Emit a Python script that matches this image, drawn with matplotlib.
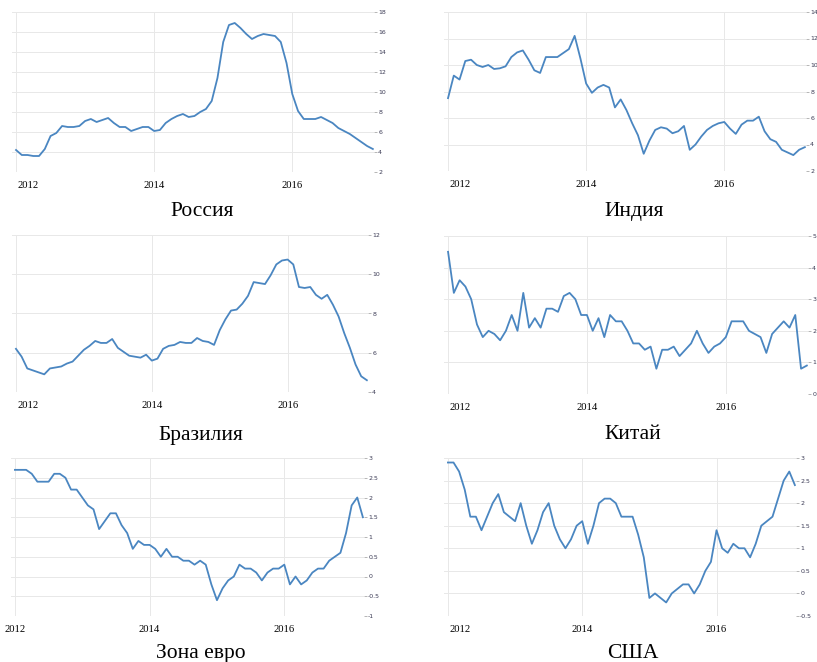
import numpy as np
import matplotlib
matplotlib.use('Agg')
import matplotlib.pyplot as plt

# monthly inflation, Jan 2012 .. Mar 2017
russia = [4.2, 3.7, 3.7, 3.6, 3.6, 4.3, 5.6, 5.9, 6.6, 6.5, 6.5, 6.6,
          7.1, 7.3, 7.0, 7.2, 7.4, 6.9, 6.5, 6.5, 6.1, 6.3, 6.5, 6.5,
          6.1, 6.2, 6.9, 7.3, 7.6, 7.8, 7.5, 7.6, 8.0, 8.3, 9.1, 11.4,
          15.0, 16.7, 16.9, 16.4, 15.8, 15.3, 15.6, 15.8, 15.7, 15.6, 15.0, 12.9,
          9.8, 8.1, 7.3, 7.3, 7.3, 7.5, 7.2, 6.9, 6.4, 6.1, 5.8, 5.4,
          5.0, 4.6, 4.3]
india = [7.5, 9.2, 8.9, 10.3, 10.4, 10.0, 9.85, 10.0, 9.7, 9.75, 9.9, 10.6,
         10.95, 11.1, 10.4, 9.6, 9.4, 10.6, 10.6, 10.6, 10.9, 11.2, 12.2, 10.5,
         8.6, 7.9, 8.3, 8.5, 8.3, 6.8, 7.4, 6.6, 5.6, 4.7, 3.3, 4.3,
         5.1, 5.3, 5.2, 4.85, 5.0, 5.4, 3.6, 4.0, 4.6, 5.1, 5.4, 5.6,
         5.7, 5.2, 4.8, 5.5, 5.8, 5.8, 6.1, 5.0, 4.4, 4.2, 3.6, 3.4,
         3.2, 3.6, 3.8]
brazil = [6.2, 5.8, 5.2, 5.1, 5.0, 4.9, 5.2, 5.25, 5.3, 5.45, 5.55, 5.85,
          6.15, 6.35, 6.6, 6.5, 6.5, 6.7, 6.25, 6.05, 5.85, 5.8, 5.75, 5.9,
          5.6, 5.7, 6.2, 6.35, 6.4, 6.55, 6.5, 6.5, 6.75, 6.6, 6.55, 6.4,
          7.15, 7.7, 8.15, 8.2, 8.5, 8.9, 9.6, 9.55, 9.5, 9.95, 10.5, 10.7,
          10.75, 10.5, 9.35, 9.3, 9.35, 8.95, 8.75, 8.95, 8.45, 7.85, 7.0, 6.25,
          5.4, 4.8, 4.6]
china = [4.5, 3.2, 3.6, 3.4, 3.0, 2.2, 1.8, 2.0, 1.9, 1.7, 2.0, 2.5,
         2.0, 3.2, 2.1, 2.4, 2.1, 2.7, 2.7, 2.6, 3.1, 3.2, 3.0, 2.5,
         2.5, 2.0, 2.4, 1.8, 2.5, 2.3, 2.3, 2.0, 1.6, 1.6, 1.4, 1.5,
         0.8, 1.4, 1.4, 1.5, 1.2, 1.4, 1.6, 2.0, 1.6, 1.3, 1.5, 1.6,
         1.8, 2.3, 2.3, 2.3, 2.0, 1.9, 1.8, 1.3, 1.9, 2.1, 2.3, 2.1,
         2.5, 0.8, 0.9]
euro = [2.7, 2.7, 2.7, 2.6, 2.4, 2.4, 2.4, 2.6, 2.6, 2.5, 2.2, 2.2,
        2.0, 1.8, 1.7, 1.2, 1.4, 1.6, 1.6, 1.3, 1.1, 0.7, 0.9, 0.8,
        0.8, 0.7, 0.5, 0.7, 0.5, 0.5, 0.4, 0.4, 0.3, 0.4, 0.3, -0.2,
        -0.6, -0.3, -0.1, 0.0, 0.3, 0.2, 0.2, 0.1, -0.1, 0.1, 0.2, 0.2,
        0.3, -0.2, 0.0, -0.2, -0.1, 0.1, 0.2, 0.2, 0.4, 0.5, 0.6, 1.1,
        1.8, 2.0, 1.5]
usa = [2.9, 2.9, 2.7, 2.3, 1.7, 1.7, 1.4, 1.7, 2.0, 2.2, 1.8, 1.7,
       1.6, 2.0, 1.5, 1.1, 1.4, 1.8, 2.0, 1.5, 1.2, 1.0, 1.2, 1.5,
       1.6, 1.1, 1.5, 2.0, 2.1, 2.1, 2.0, 1.7, 1.7, 1.7, 1.3, 0.8,
       -0.1, 0.0, -0.1, -0.2, 0.0, 0.1, 0.2, 0.2, 0.0, 0.2, 0.5, 0.7,
       1.4, 1.0, 0.9, 1.1, 1.0, 1.0, 0.8, 1.1, 1.5, 1.6, 1.7, 2.1,
       2.5, 2.7, 2.4]

titles = ['Россия', 'Индия', 'Бразилия', 'Китай', 'Зона евро', 'США']
series = [russia, india, brazil, china, euro, usa]
yticks = [np.arange(2, 19, 2), np.arange(2, 15, 2), np.arange(4, 13, 2),
          np.arange(0, 6, 1), np.arange(-1, 3.01, 0.5), np.arange(-0.5, 3.01, 0.5)]
years = ['2012', '2014', '2016']
year_pos = [0, 24, 48]

# panel boxes in pixels: left, right, top, bottom
boxes = [(12, 374, 12, 172), (444, 806, 12, 171),
         (12, 368, 235, 392), (444, 808, 236, 394),
         (11, 364, 458, 616), (444, 796, 458, 616)]
title_xy = [(202, 216), (634, 216), (201, 440), (633, 439), (201, 658), (633, 658)]

W, H = 817, 662
fig = plt.figure(figsize=(W/100, H/100), dpi=100)
serif = 'Liberation Serif'
col = '#4a86c1'
x = np.arange(len(russia))

for i in range(6):
    l, r, t, b = boxes[i]
    ax = fig.add_axes([l/W, 1 - b/H, (r - l)/W, (b - t)/H])
    ax.plot(x, series[i], color=col, lw=1.3, solid_joinstyle='round')
    ax.set_xlim(-0.7, 62.2)
    ax.set_ylim(yticks[i][0], yticks[i][-1])
    ax.set_yticks(yticks[i])
    ax.set_yticklabels(['%g' % v for v in yticks[i]])
    ax.yaxis.tick_right()
    ax.tick_params(axis='y', length=2, width=0.6, color='#aaaaaa',
                   labelsize=4.5, labelcolor='#3b3b55', pad=1)
    ax.set_xticks([])
    for s in ax.spines.values():
        s.set_visible(False)
    ax.grid(axis='y', color='#e8e8e8', lw=0.7)
    for p in year_pos:
        ax.axvline(p, color='#e8e8e8', lw=0.7, zorder=0)
    for j in range(3):
        ha = 'center'
        dx = 0
        if j == 0 and i != 4:
            ha = 'left'
            dx = 1
        ax.annotate(years[j], xy=(year_pos[j], 0), xycoords=('data', 'axes fraction'),
                    xytext=(dx, -9.5), textcoords='offset points',
                    ha=ha, va='center', fontsize=7.7, family=serif)
    tx, ty = title_xy[i]
    fig.text(tx/W, 1 - ty/H, titles[i], ha='center', va='baseline',
             fontsize=15.5, family=serif)

plt.savefig('out.png', dpi=100)
